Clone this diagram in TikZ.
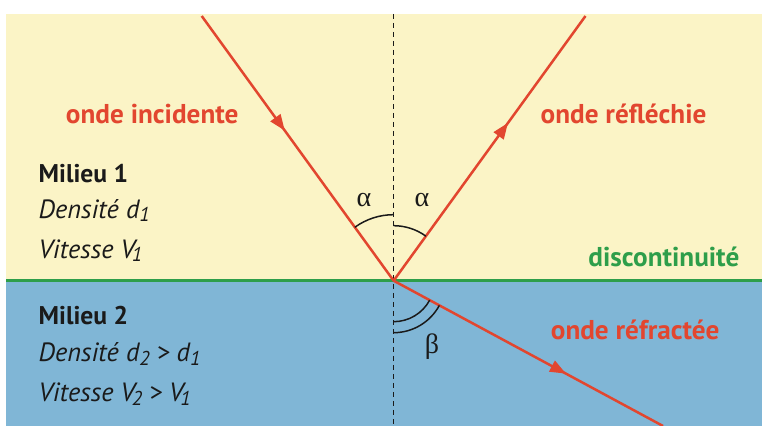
\documentclass[tikz,border=0pt]{standalone}
\usepackage{fontspec}
\setmainfont{PT Sans}
\newfontfamily\greekfont{Liberation Serif}
\usepackage{xcolor}
\definecolor{sand}{HTML}{FBF4C6}
\definecolor{sea}{HTML}{80B6D6}
\definecolor{wave}{HTML}{E2462F}
\definecolor{border}{HTML}{2E9E4A}
\definecolor{ink}{HTML}{1A1A1A}
\usepackage{tikz}
\usetikzlibrary{arrows.meta,decorations.markings}
\newcommand{\low}[1]{\raisebox{-0.28ex}{\fontsize{10}{12}\selectfont\itshape #1}}

\begin{document}
\begin{tikzpicture}[x=0.5pt,y=0.5pt,
  ray/.style={wave,line width=1.25pt},
  midarrow/.style={postaction={decorate,decoration={markings,
     mark=at position #1 with {\arrow{Triangle[length=8pt,width=6pt]}}}}},
  anglearc/.style={ink,line width=0.75pt},
  redtext/.style={wave,inner sep=0pt,anchor=base west,font=\bfseries\fontsize{13.6}{16}\selectfont},
  medium/.style={ink,inner sep=0pt,anchor=base west,font=\itshape\fontsize{13.2}{15}\selectfont},
  mediumtitle/.style={medium,font=\bfseries\fontsize{12.8}{15}\selectfont},
  greek/.style={ink,font=\greekfont\fontsize{14}{16}\selectfont}]
  \useasboundingbox (0,0) rectangle (762,426);
  % the two media
  \fill[sand] (6,145) rectangle (762,412);
  \fill[sea] (6,0) rectangle (762,145);
  \draw[border,line width=1.5pt] (6,145) -- (762,145);
  % normal to the interface
  \coordinate (O) at (393.6,145.3);
  \coordinate (ntop) at (393.6,412);
  \coordinate (nbot) at (393.6,0);
  \draw[ink,line width=0.6pt,dash pattern=on 2.5pt off 2pt] (ntop) -- (nbot);
  % rays
  \coordinate (src) at (201.7,410);
  \coordinate (refl) at (585.5,410);
  \coordinate (refr) at (663,0);
  \draw[ray,midarrow=0.433] (src) -- (O);
  \draw[ray,midarrow=0.596] (O) -- (refl);
  \draw[ray,midarrow=0.64] (O) -- (refr);
  % angles
  \draw[anglearc] ([shift={(90:66)}]O) arc[start angle=90,end angle=126,radius=66];
  \draw[anglearc] ([shift={(90:55)}]O) arc[start angle=90,end angle=54,radius=55];
  \draw[anglearc] ([shift={(270:41)}]O) arc[start angle=270,end angle=331.7,radius=41];
  \draw[anglearc] ([shift={(270:52)}]O) arc[start angle=270,end angle=331.7,radius=52];
  \node[greek] (alphaL) at (364,226) {α};
  \node[greek] (alphaR) at (422,226) {α};
  \node[greek] (beta) at (432,79) {β};
  % labels
  \node[redtext] (incl) at (65.6,302) {onde incidente};
  \node[redtext] (refll) at (540.3,302) {onde réfléchie};
  \node[redtext] (refrl) at (550.5,86) {onde réfractée};
  \node[redtext,border] (disc) at (588,159.3) {discontinuité};
  \node[mediumtitle] (m1) at (38.3,243.3) {Milieu 1};
  \node[medium] (d1) at (38.3,207.7) {Densité d\low{1}};
  \node[medium] (v1) at (38.3,167.7) {Vitesse V\kern-1.5pt\low{1}};
  \node[mediumtitle] (m2) at (38.3,101) {Milieu 2};
  \node[medium] (d2) at (38.3,64.3) {Densité d\low{2} > d\low{1}};
  \node[medium] (v2) at (38.3,24.3) {Vitesse V\kern-1.5pt\low{2} > V\kern-1.5pt\low{1}};
\end{tikzpicture}
\end{document}
